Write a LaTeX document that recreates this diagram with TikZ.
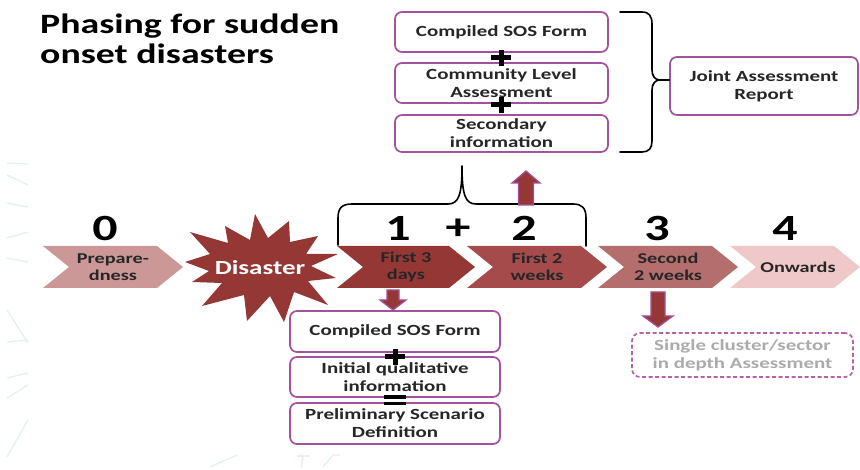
\documentclass[tikz,border=0pt]{standalone}
\usepackage{fontspec}
\setmainfont{Carlito}[FakeStretch=1.35]
\definecolor{boxpurple}{HTML}{A5529E}
\definecolor{dashpurple}{HTML}{B462AC}
\definecolor{arrpurple}{HTML}{A0509A}
\definecolor{dred}{HTML}{953735}
\definecolor{cprep}{HTML}{CC9797}
\definecolor{cweek}{HTML}{A64B4B}
\definecolor{csec}{HTML}{B36E6D}
\definecolor{conw}{HTML}{EFC9C9}
\definecolor{txt}{HTML}{262626}
\definecolor{greytxt}{HTML}{ABABAB}
\definecolor{faint}{HTML}{E3F1EE}
\newcommand\boxfont{\fontsize{15.5}{18}\selectfont\bfseries}
\newcommand\chevfont{\fontsize{15}{17}\selectfont\bfseries}
\newcommand\numfont{\fontsize{37}{40}\selectfont\bfseries}
\newcommand\chev[3]{\fill[#3] (#1,246) -- (#2-26,246) -- (#2,267) -- (#2-26,288) -- (#1,288) -- (#1+26,267) -- cycle;}
\newcommand\bkarrow[6]{\draw[arrowsty] (#1-#5,#2) -- (#1-#5,#3) -- (#1-#6,#3) -- (#1,#4) -- (#1+#6,#3) -- (#1+#5,#3) -- (#1+#5,#2) -- cycle;}
\newcommand\plusmark[2]{\fill[black] (#1-10,#2-2.5) rectangle (#1+10,#2+2.5); \fill[black] (#1-2.5,#2-8) rectangle (#1+2.5,#2+8);}
\begin{document}
\begin{tikzpicture}[x=1pt,y=-1pt,
  box/.style={draw=boxpurple, line width=1.7pt, rounded corners=7pt, fill=white,
    align=center, inner sep=0pt, font=\boxfont, text=txt},
  dbox/.style={draw=dashpurple, line width=1.7pt, dash pattern=on 4pt off 2.5pt,
    rounded corners=8pt, fill=white, align=center, inner sep=0pt, font=\boxfont, text=greytxt},
  chevtxt/.style={align=center, font=\chevfont, text=txt, inner sep=0pt},
  num/.style={font=\numfont, text=black, inner sep=0pt},
  arrowsty/.style={fill=dred, draw=arrpurple, line width=1.3pt},
  bracesty/.style={draw=black, line width=1.6pt, line cap=round, line join=round},
  faintline/.style={draw=faint, line width=1.3pt}]
\useasboundingbox (0,0) rectangle (860,470);
% faint background strokes
\draw[faintline] (7,163) -- (28,164);
\draw[faintline] (7,175) -- (28,185);
\draw[faintline] (7,203) -- (28,207);
\draw[faintline] (7,238) -- (28,232);
\draw[faintline] (7,258) -- (28,262);
\draw[faintline] (7,310) -- (28,343);
\draw[faintline] (7,342) -- (28,340);
\draw[faintline] (7,378) -- (28,373);
\draw[faintline] (7,398) -- (28,385);
\draw[faintline] (7,457) -- (28,420);
\draw[faintline] (210,467) -- (237,455);
\draw[faintline] (297,456) -- (310,456);
\draw[faintline] (303,456) -- (301,468);
\draw[faintline] (323,467) -- (333,455) -- (340,455);
% title
\node[anchor=north west, align=left, inner sep=0pt, font=\fontsize{28}{30}\selectfont\bfseries, text=black]
  (title) at (40,14) {Phasing for sudden\\onset disasters};
% chevrons
\chev{43}{183}{cprep}
\chev{337}{475}{dred}
\chev{467}{607}{cweek}
\chev{598}{738}{csec}
\chev{730}{860}{conw}
\node[chevtxt] (prep) at (113,267) {Prepare-\\dness};
\node[chevtxt] (f3) at (406,267) {First 3\\days};
\node[chevtxt] (f2) at (537,267) {First 2\\weeks};
\node[chevtxt] (s2) at (668,267) {Second\\2 weeks};
\node[chevtxt] (onw) at (798,267) {Onwards};
% disaster star
\fill[dred] (185,262) -- (210,254) -- (190,232) -- (228,243) -- (225,226) -- (250,240)
  -- (255,214) -- (268,238) -- (289,221) -- (290,242) -- (318,236) -- (306,254)
  -- (338,254) -- (311,266) -- (336,278) -- (308,281) -- (328,305) -- (294,292)
  -- (284,322) -- (270,296) -- (247,321) -- (244,295) -- (202,306) -- (222,283)
  -- (192,282) -- (209,271) -- cycle;
\node[font=\fontsize{20}{22}\selectfont\bfseries, text=white, inner sep=0pt] (dis) at (260,268) {Disaster};
% phase numbers
\node[num] (n0) at (105,228) {0};
\node[num] (n1) at (398,228) {1};
\node[num] (nplus) at (458,229) {+};
\node[num] (n2) at (524,228) {2};
\node[num] (n3) at (657,228) {3};
\node[num] (n4) at (785,228) {4};
% brace over 1 + 2
\draw[bracesty] (338,245) -- (338,218) .. controls (338,208) and (342,204) .. (352,204)
  -- (448,204) .. controls (459,204) and (462,194) .. (462,166)
  .. controls (462,194) and (465,204) .. (476,204) -- (573,204)
  .. controls (582,204) and (586,208) .. (586,218) -- (586,246);
% top boxes
\node[box, minimum width=213pt, minimum height=40pt] (t1) at (501.5,32) {Compiled SOS Form};
\node[box, minimum width=213pt, minimum height=40pt] (t2) at (501.5,83) {Community Level\\Assessment};
\node[box, minimum width=213pt, minimum height=37pt] (t3) at (501.5,133.5) {Secondary\\information};
\plusmark{501}{58}
\plusmark{501}{105}
% right brace and joint report
\node[box, minimum width=188pt, minimum height=58pt] (jar) at (764,86) {Joint Assessment\\Report};
\coordinate (btip) at (660,80);
\draw[bracesty] (620,12) -- (642,12) .. controls (649,12) and (652,16) .. (652,24)
  -- (652,70) .. controls (652,76) and (655,80) .. (btip)
  .. controls (655,80) and (652,84) .. (652,90) -- (652,141)
  .. controls (652,148) and (649,152) .. (642,152) -- (620,152);
\draw[bracesty] (btip) -- (jar.west |- btip);
% bottom boxes
\node[box, minimum width=210pt, minimum height=41pt] (b1) at (395,331.5) {Compiled SOS Form};
\node[box, minimum width=210pt, minimum height=40pt] (b2) at (395,377) {Initial qualitative\\information};
\node[box, minimum width=210pt, minimum height=41pt] (b3) at (395,423.5) {Preliminary Scenario\\Definition};
\plusmark{395}{357}
\fill[black] (384,395.5) rectangle (406,399);
\fill[black] (384,402) rectangle (406,405.5);
% dashed box
\node[dbox, minimum width=221pt, minimum height=44pt] (sc) at (742.5,355) {Single cluster/sector\\in depth Assessment};
% block arrows
\bkarrow{393}{290}{300}{310}{6}{13}
\bkarrow{658}{292}{316}{327}{7}{15}
\bkarrow{526}{205}{183}{171}{7.5}{14}
\end{tikzpicture}
\end{document}
